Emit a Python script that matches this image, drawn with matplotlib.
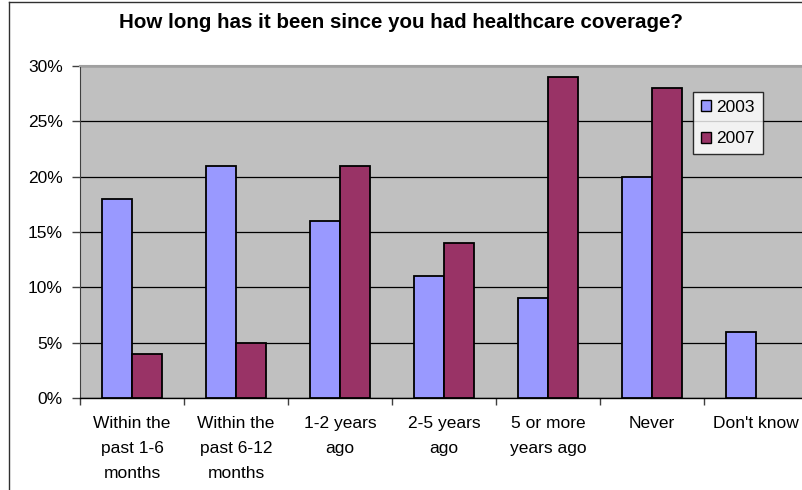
import matplotlib
matplotlib.use("Agg")
import matplotlib.pyplot as plt
import numpy as np
from matplotlib.lines import Line2D
from matplotlib.patches import Patch

categories = ["Within the\npast 1-6\nmonths", "Within the\npast 6-12\nmonths",
              "1-2 years\nago", "2-5 years\nago", "5 or more\nyears ago",
              "Never", "Don't know"]
values_2003 = [18, 21, 16, 11, 9, 20, 6]
values_2007 = [4, 5, 21, 14, 29, 28, np.nan]
series_labels = ["2003", "2007"]
y_ticks = [0, 5, 10, 15, 20, 25, 30]
title = "How long has it been since you had healthcare coverage?"

plt.rcParams["font.family"] = ["Liberation Sans", "DejaVu Sans"]

W, H = 803, 490
fig = plt.figure(figsize=(W / 100, H / 100), dpi=100)

# plot area in pixel terms, it runs past the right edge of the canvas
left_px, right_px, top_px, bottom_px = 80, 808, 66, 398
ax = fig.add_axes([left_px / W, (H - bottom_px) / H,
                   (right_px - left_px) / W, (bottom_px - top_px) / H])
ax.set_facecolor("#C0C0C0")

x = np.arange(len(categories))
bw = 0.29
ax.bar(x - bw / 2, values_2003, bw, color="#9999FF", edgecolor="black",
       linewidth=1.3, zorder=3)
ax.bar(x + bw / 2, values_2007, bw, color="#993366", edgecolor="black",
       linewidth=1.3, zorder=3)

ax.set_xlim(-0.5, len(categories) - 0.5)
ax.set_ylim(0, 30)
ax.set_yticks(y_ticks)
ax.set_yticklabels([f"{v}%" for v in y_ticks])
ax.yaxis.grid(True, color="black", linewidth=0.9, zorder=1)
ax.set_axisbelow(True)

ax.set_xticks(x)
ax.set_xticklabels(categories, linespacing=1.85)
ax.set_xticks(np.arange(len(categories) + 1) - 0.5, minor=True)
ax.tick_params(axis="x", which="major", length=0, pad=13, labelsize=12.5)
ax.tick_params(axis="x", which="minor", length=5, width=1, color="#404040",
               direction="out")
ax.tick_params(axis="y", length=5.8, width=1, color="#404040", pad=6.5,
               labelsize=12.5)

ax.spines["right"].set_visible(False)
ax.spines["top"].set_color("#A0A0A0")
ax.spines["top"].set_linewidth(1.5)
ax.spines["left"].set_color("#404040")
ax.spines["bottom"].set_color("black")
ax.spines["bottom"].set_linewidth(1.0)

fig.text(401 / W, 1 - 23 / H, title, ha="center", va="center",
         fontsize=14.8, fontweight="bold")

handles = [Patch(facecolor="#9999FF", edgecolor="black", linewidth=1),
           Patch(facecolor="#993366", edgecolor="black", linewidth=1)]
leg = fig.legend(handles, series_labels, loc="upper left",
                 bbox_to_anchor=(693 / W, 1 - 92 / H), fontsize=12.5,
                 frameon=True, fancybox=False, shadow=False,
                 handlelength=0.6, handleheight=0.6, handletextpad=0.3,
                 borderpad=0.45, labelspacing=0.95, borderaxespad=0)
leg.get_frame().set_edgecolor("black")
leg.get_frame().set_linewidth(1)
leg.get_frame().set_facecolor("white")

# outer chart border, clipped by the canvas on the right and bottom
fig.add_artist(Line2D([9.5 / W, 9.5 / W], [0, 1 - 2.5 / H],
                      transform=fig.transFigure, color="#303030", linewidth=1))
fig.add_artist(Line2D([9.5 / W, 1], [1 - 2.5 / H, 1 - 2.5 / H],
                      transform=fig.transFigure, color="#303030", linewidth=1))

fig.savefig("out.png", dpi=100)
